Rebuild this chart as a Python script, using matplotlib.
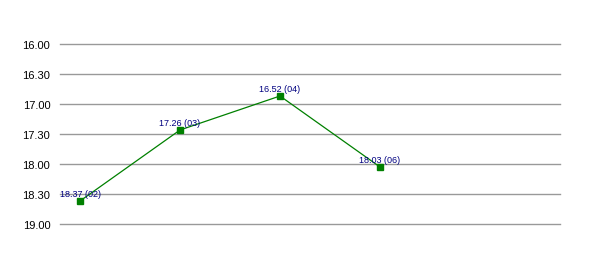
import matplotlib
matplotlib.use("Agg")
import matplotlib.pyplot as plt

# race times written as minutes.seconds, with race number
times = ["18.37", "17.26", "16.52", "18.03"]
races = ["02", "03", "04", "06"]
ytick_labels = ["16.00", "16.30", "17.00", "17.30", "18.00", "18.30", "19.00"]


def to_min(s):
    # "mm.ss" -> minutes as float
    m, sec = s.split(".")
    return int(m) + int(sec) / 60.0


plt.rcParams['font.family'] = ['Liberation Sans', 'DejaVu Sans']

fig = plt.figure(figsize=(6, 2.55), dpi=100)
ax = fig.add_axes([60 / 600, 30 / 255, 500 / 600, 180 / 255])

x = list(range(len(times)))
y = [to_min(t) for t in times]

ax.plot(x, y, color='#008000', linewidth=0.9, marker='s', markersize=4.2,
        markerfacecolor='#008000', markeredgecolor='#008000', zorder=3)

for xi, yi, t, r in zip(x, y, times, races):
    ax.annotate(f"{t} ({r})", (xi, yi), xytext=(0, 2.5), textcoords='offset points',
                ha='center', va='bottom', fontsize=6.5, color='#000080', zorder=4)

ax.set_yticks([to_min(s) for s in ytick_labels])
ax.set_yticklabels(ytick_labels)
ax.set_ylim(19, 16)
ax.set_xlim(-0.2, 4.8)
ax.set_xticks([])

ax.grid(True, axis='y', color='#999999', linewidth=1.0)
for gl in ax.get_ygridlines():
    gl.set_clip_on(False)
ax.set_axisbelow(True)
ax.tick_params(axis='y', length=0, pad=7, labelsize=8, labelcolor='#000000')
for sp in ax.spines.values():
    sp.set_visible(False)

fig.savefig("out.png", dpi=100)
